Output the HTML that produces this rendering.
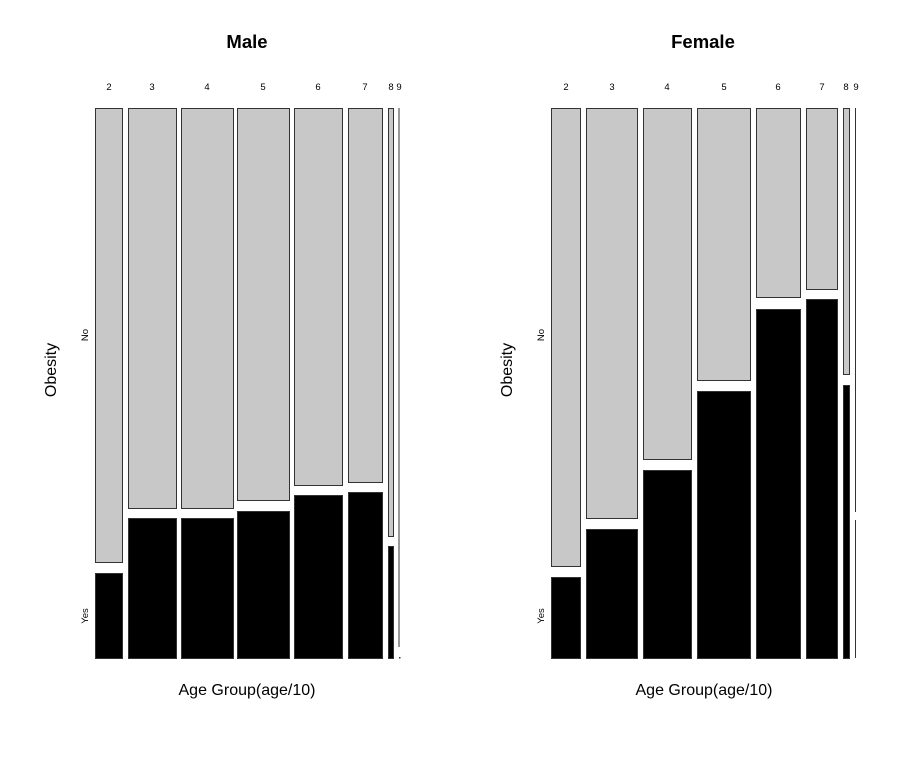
<!DOCTYPE html>
<html><head><style>html,body{margin:0;padding:0;background:#fff}</style></head>
<body>
<svg width="913" height="758" viewBox="0 0 913 758" xmlns="http://www.w3.org/2000/svg" font-family="Liberation Sans, sans-serif">
<rect width="913" height="758" fill="#fff"/>
<g stroke="#333" stroke-width="1">
<rect x="95.5" y="108.5" width="27" height="454" fill="#c8c8c8"/>
<rect x="128.5" y="108.5" width="48" height="400" fill="#c8c8c8"/>
<rect x="181.5" y="108.5" width="52" height="400" fill="#c8c8c8"/>
<rect x="237.5" y="108.5" width="52" height="392" fill="#c8c8c8"/>
<rect x="294.5" y="108.5" width="48" height="377" fill="#c8c8c8"/>
<rect x="348.5" y="108.5" width="34" height="374" fill="#c8c8c8"/>
<rect x="388.5" y="108.5" width="5" height="428" fill="#c8c8c8"/>
<rect x="95.5" y="573.5" width="27" height="85" fill="#000"/>
<rect x="128.5" y="518.5" width="48" height="140" fill="#000"/>
<rect x="181.5" y="518.5" width="52" height="140" fill="#000"/>
<rect x="237.5" y="511.5" width="52" height="147" fill="#000"/>
<rect x="294.5" y="495.5" width="48" height="163" fill="#000"/>
<rect x="348.5" y="492.5" width="34" height="166" fill="#000"/>
<rect x="388.5" y="546.5" width="5" height="112" fill="#000"/>
<line x1="399" y1="108" x2="399" y2="647"/>
<rect x="551.5" y="108.5" width="29" height="458" fill="#c8c8c8"/>
<rect x="586.5" y="108.5" width="51" height="410" fill="#c8c8c8"/>
<rect x="643.5" y="108.5" width="48" height="351" fill="#c8c8c8"/>
<rect x="697.5" y="108.5" width="53" height="272" fill="#c8c8c8"/>
<rect x="756.5" y="108.5" width="44" height="189" fill="#c8c8c8"/>
<rect x="806.5" y="108.5" width="31" height="181" fill="#c8c8c8"/>
<rect x="843.5" y="108.5" width="6" height="266" fill="#c8c8c8"/>
<rect x="551.5" y="577.5" width="29" height="81" fill="#000"/>
<rect x="586.5" y="529.5" width="51" height="129" fill="#000"/>
<rect x="643.5" y="470.5" width="48" height="188" fill="#000"/>
<rect x="697.5" y="391.5" width="53" height="267" fill="#000"/>
<rect x="756.5" y="309.5" width="44" height="349" fill="#000"/>
<rect x="806.5" y="299.5" width="31" height="359" fill="#000"/>
<rect x="843.5" y="385.5" width="6" height="273" fill="#000"/>
<line x1="855.5" y1="108" x2="855.5" y2="512"/>
<line x1="855.5" y1="520" x2="855.5" y2="658"/>
</g>
<rect x="399" y="657" width="1.5" height="1.5" fill="#333"/>
<g font-size="9.5" text-anchor="middle" fill="#000">
<text x="109" y="90">2</text><text x="152" y="90">3</text><text x="207" y="90">4</text><text x="263" y="90">5</text><text x="318" y="90">6</text><text x="365" y="90">7</text><text x="391" y="90">8</text><text x="399" y="90">9</text>
<text x="566" y="90">2</text><text x="612" y="90">3</text><text x="667" y="90">4</text><text x="724" y="90">5</text><text x="778" y="90">6</text><text x="822" y="90">7</text><text x="846" y="90">8</text><text x="856" y="90">9</text>
<text transform="translate(88,335) rotate(-90)">No</text>
<text transform="translate(88,616) rotate(-90)">Yes</text>
<text transform="translate(544,335) rotate(-90)">No</text>
<text transform="translate(544,616) rotate(-90)">Yes</text>
</g>
<g font-size="18.5" font-weight="bold" text-anchor="middle">
<text x="247" y="48">Male</text><text x="703" y="48">Female</text>
</g>
<g font-size="16" text-anchor="middle">
<text x="247" y="695">Age Group(age/10)</text>
<text x="704" y="695">Age Group(age/10)</text>
<text transform="translate(56,370) rotate(-90)">Obesity</text>
<text transform="translate(512,370) rotate(-90)">Obesity</text>
</g>
</svg>
</body></html>
